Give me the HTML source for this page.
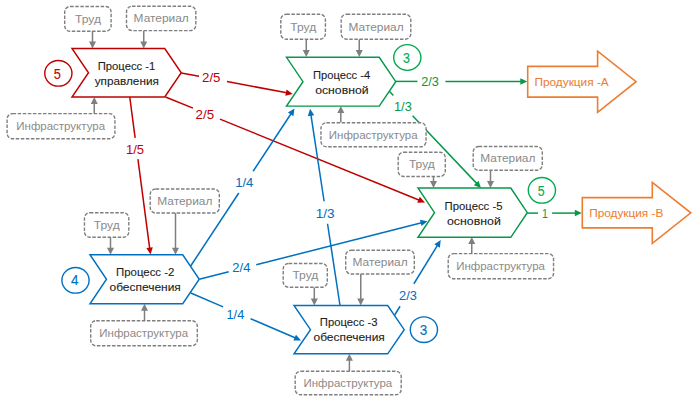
<!DOCTYPE html>
<html><head><meta charset="utf-8"><style>
html,body{margin:0;padding:0;background:#fff;}
body{width:700px;height:402px;overflow:hidden;}
svg{display:block;font-family:"Liberation Sans", sans-serif;}
</style></head><body>
<svg width="700" height="402" viewBox="0 0 700 402">
<rect width="700" height="402" fill="#fff"/>
<line x1="181.25" y1="73" x2="199.0" y2="76.33" stroke="#C00000" stroke-width="1.5"/>
<line x1="227.0" y1="81.57" x2="286.9" y2="92.8" stroke="#C00000" stroke-width="1.5"/>
<polygon points="292.80,93.90 285.32,95.81 286.52,89.42" fill="#C00000"/>
<line x1="165.5" y1="97" x2="193.0" y2="108.18" stroke="#C00000" stroke-width="1.5"/>
<line x1="220.0" y1="119.16" x2="419.44" y2="200.24" stroke="#C00000" stroke-width="1.5"/>
<polygon points="425.00,202.50 417.29,202.87 419.74,196.85" fill="#C00000"/>
<line x1="129.75" y1="97" x2="135.13" y2="137.8" stroke="#C00000" stroke-width="1.5"/>
<line x1="137.93" y1="159.1" x2="149.72" y2="248.55" stroke="#C00000" stroke-width="1.5"/>
<polygon points="150.50,254.50 146.36,247.98 152.81,247.14" fill="#C00000"/>
<line x1="395.75" y1="81.4" x2="417.5" y2="81.4" stroke="#06984A" stroke-width="1.5"/>
<line x1="445.4" y1="81.4" x2="521.3" y2="81.4" stroke="#06984A" stroke-width="1.5"/>
<polygon points="527.30,81.40 520.30,84.65 520.30,78.15" fill="#06984A"/>
<line x1="389.3" y1="91.2" x2="393.4" y2="95.53" stroke="#06984A" stroke-width="1.5"/>
<line x1="412.6" y1="115.8" x2="476.87" y2="183.64" stroke="#06984A" stroke-width="1.5"/>
<polygon points="481.00,188.00 473.83,185.15 478.55,180.68" fill="#06984A"/>
<line x1="527.2" y1="213.1" x2="538.0" y2="213.1" stroke="#06984A" stroke-width="1.5"/>
<line x1="552.1" y1="213.1" x2="575.8" y2="213.1" stroke="#06984A" stroke-width="1.5"/>
<polygon points="581.80,213.10 574.80,216.35 574.80,209.85" fill="#06984A"/>
<line x1="190.5" y1="266.25" x2="238.79" y2="193.0" stroke="#0070C0" stroke-width="1.5"/>
<line x1="253.13" y1="171.25" x2="291.2" y2="113.51" stroke="#0070C0" stroke-width="1.5"/>
<polygon points="294.50,108.50 293.36,116.13 287.93,112.56" fill="#0070C0"/>
<line x1="199.25" y1="279.25" x2="228.75" y2="271.75" stroke="#0070C0" stroke-width="1.5"/>
<line x1="256.25" y1="264.77" x2="421.68" y2="222.73" stroke="#0070C0" stroke-width="1.5"/>
<polygon points="427.50,221.25 421.52,226.12 419.92,219.82" fill="#0070C0"/>
<line x1="190.8" y1="293" x2="223.1" y2="306.88" stroke="#0070C0" stroke-width="1.5"/>
<line x1="250.6" y1="318.7" x2="295.59" y2="338.03" stroke="#0070C0" stroke-width="1.5"/>
<polygon points="301.10,340.40 293.39,340.62 295.95,334.65" fill="#0070C0"/>
<line x1="340" y1="305.5" x2="327.53" y2="223.75" stroke="#0070C0" stroke-width="1.5"/>
<line x1="324.1" y1="201.25" x2="310.9" y2="114.68" stroke="#0070C0" stroke-width="1.5"/>
<polygon points="310.00,108.75 314.27,115.18 307.84,116.16" fill="#0070C0"/>
<line x1="394.7" y1="315" x2="400.07" y2="306.25" stroke="#0070C0" stroke-width="1.5"/>
<line x1="413.89" y1="283.75" x2="437.61" y2="245.11" stroke="#0070C0" stroke-width="1.5"/>
<polygon points="440.75,240.00 439.86,247.67 434.32,244.26" fill="#0070C0"/>
<line x1="92.5" y1="31" x2="92.5" y2="42.5" stroke="#7F7F7F" stroke-width="1.5"/>
<polygon points="92.5,48.5 89.0,41.5 96.0,41.5" fill="#7F7F7F"/>
<line x1="143.75" y1="31" x2="143.75" y2="42.5" stroke="#7F7F7F" stroke-width="1.5"/>
<polygon points="143.75,48.5 140.25,41.5 147.25,41.5" fill="#7F7F7F"/>
<line x1="94.25" y1="113.5" x2="94.25" y2="103" stroke="#7F7F7F" stroke-width="1.5"/>
<polygon points="94.25,97 90.75,104 97.75,104" fill="#7F7F7F"/>
<line x1="306.25" y1="39.2" x2="306.25" y2="51" stroke="#7F7F7F" stroke-width="1.5"/>
<polygon points="306.25,57 302.75,50 309.75,50" fill="#7F7F7F"/>
<line x1="359.25" y1="39.2" x2="359.25" y2="51" stroke="#7F7F7F" stroke-width="1.5"/>
<polygon points="359.25,57 355.75,50 362.75,50" fill="#7F7F7F"/>
<line x1="340.8" y1="122.5" x2="340.8" y2="112.1" stroke="#7F7F7F" stroke-width="1.5"/>
<polygon points="340.8,106.1 337.3,113.1 344.3,113.1" fill="#7F7F7F"/>
<line x1="433.5" y1="176.5" x2="433.5" y2="182" stroke="#7F7F7F" stroke-width="1.5"/>
<polygon points="433.5,188 430.0,181 437.0,181" fill="#7F7F7F"/>
<line x1="490.5" y1="170.3" x2="490.5" y2="182" stroke="#7F7F7F" stroke-width="1.5"/>
<polygon points="490.5,188 487.0,181 494.0,181" fill="#7F7F7F"/>
<line x1="471.75" y1="253.75" x2="471.75" y2="243" stroke="#7F7F7F" stroke-width="1.5"/>
<polygon points="471.75,237 468.25,244 475.25,244" fill="#7F7F7F"/>
<line x1="110.5" y1="237.3" x2="110.5" y2="248.75" stroke="#7F7F7F" stroke-width="1.5"/>
<polygon points="110.5,254.75 107.0,247.75 114.0,247.75" fill="#7F7F7F"/>
<line x1="175.5" y1="213" x2="175.5" y2="248.75" stroke="#7F7F7F" stroke-width="1.5"/>
<polygon points="175.5,254.75 172.0,247.75 179.0,247.75" fill="#7F7F7F"/>
<line x1="144.5" y1="320.5" x2="144.5" y2="309.75" stroke="#7F7F7F" stroke-width="1.5"/>
<polygon points="144.5,303.75 141.0,310.75 148.0,310.75" fill="#7F7F7F"/>
<line x1="314.3" y1="287.3" x2="314.3" y2="299.5" stroke="#7F7F7F" stroke-width="1.5"/>
<polygon points="314.3,305.5 310.8,298.5 317.8,298.5" fill="#7F7F7F"/>
<line x1="360.75" y1="274" x2="360.75" y2="299.5" stroke="#7F7F7F" stroke-width="1.5"/>
<polygon points="360.75,305.5 357.25,298.5 364.25,298.5" fill="#7F7F7F"/>
<line x1="349.4" y1="371" x2="349.4" y2="359.7" stroke="#7F7F7F" stroke-width="1.5"/>
<polygon points="349.4,353.7 345.9,360.7 352.9,360.7" fill="#7F7F7F"/>
<polygon points="72,48.5 164.75,48.5 181.25,72.75 164.75,97.0 72,97.0 88.5,72.75" fill="#fff" stroke="#C00000" stroke-width="1.45" stroke-linejoin="miter"/>
<polygon points="286.5,57.3 379.25,57.3 395.75,81.69999999999999 379.25,106.1 286.5,106.1 303.0,81.69999999999999" fill="#fff" stroke="#06984A" stroke-width="1.45" stroke-linejoin="miter"/>
<polygon points="418,188 510.79999999999995,188 527.3,212.65 510.79999999999995,237.3 418,237.3 434.5,212.65" fill="#fff" stroke="#06984A" stroke-width="1.45" stroke-linejoin="miter"/>
<polygon points="90,254.75 182.75,254.75 199.25,279.25 182.75,303.75 90,303.75 106.5,279.25" fill="#fff" stroke="#0070C0" stroke-width="1.45" stroke-linejoin="miter"/>
<polygon points="294,305.5 387.7,305.5 404.2,329.65 387.7,353.8 294,353.8 310.5,329.65" fill="#fff" stroke="#0070C0" stroke-width="1.45" stroke-linejoin="miter"/>
<text x="97.69" y="70.10" font-size="11.6" fill="#1E1E1E" stroke="#1E1E1E" stroke-width="0.12" textLength="57.66" lengthAdjust="spacingAndGlyphs">Процесс -1</text>
<text x="94.76" y="84.50" font-size="11.6" fill="#1E1E1E" stroke="#1E1E1E" stroke-width="0.12" textLength="64.05" lengthAdjust="spacingAndGlyphs">управления</text>
<text x="313.00" y="78.60" font-size="11.6" fill="#1E1E1E" stroke="#1E1E1E" stroke-width="0.12" textLength="57.13" lengthAdjust="spacingAndGlyphs">Процесс -4</text>
<text x="315.19" y="93.60" font-size="11.6" fill="#1E1E1E" stroke="#1E1E1E" stroke-width="0.12" textLength="53.37" lengthAdjust="spacingAndGlyphs">основной</text>
<text x="444.58" y="209.50" font-size="11.6" fill="#1E1E1E" stroke="#1E1E1E" stroke-width="0.12" textLength="57.89" lengthAdjust="spacingAndGlyphs">Процесс -5</text>
<text x="446.98" y="224.50" font-size="11.6" fill="#1E1E1E" stroke="#1E1E1E" stroke-width="0.12" textLength="53.88" lengthAdjust="spacingAndGlyphs">основной</text>
<text x="116.08" y="276.25" font-size="11.6" fill="#1E1E1E" stroke="#1E1E1E" stroke-width="0.12" textLength="58.24" lengthAdjust="spacingAndGlyphs">Процесс -2</text>
<text x="109.50" y="290.75" font-size="11.6" fill="#1E1E1E" stroke="#1E1E1E" stroke-width="0.12" textLength="71.34" lengthAdjust="spacingAndGlyphs">обеспечения</text>
<text x="319.84" y="326.25" font-size="11.6" fill="#1E1E1E" stroke="#1E1E1E" stroke-width="0.12" textLength="57.66" lengthAdjust="spacingAndGlyphs">Процесс -3</text>
<text x="313.50" y="341.00" font-size="11.6" fill="#1E1E1E" stroke="#1E1E1E" stroke-width="0.12" textLength="71.34" lengthAdjust="spacingAndGlyphs">обеспечения</text>
<rect x="64.70" y="6.50" width="46.40" height="24.80" rx="5.5" fill="#fff" stroke="#7F7F7F" stroke-width="1.4" stroke-dasharray="3.5 1.57"/>
<text x="75.09" y="22.95" font-size="11.3" fill="#8A8A8A" stroke="#8A8A8A" stroke-width="0" textLength="25.88" lengthAdjust="spacingAndGlyphs">Труд</text>
<rect x="126.50" y="6.20" width="69.30" height="24.40" rx="5.5" fill="#fff" stroke="#7F7F7F" stroke-width="1.4" stroke-dasharray="3.5 1.57"/>
<text x="133.62" y="22.45" font-size="11.3" fill="#8A8A8A" stroke="#8A8A8A" stroke-width="0" textLength="55.21" lengthAdjust="spacingAndGlyphs">Материал</text>
<rect x="7.10" y="113.60" width="107.80" height="25.20" rx="5.5" fill="#fff" stroke="#7F7F7F" stroke-width="1.4" stroke-dasharray="3.5 1.57"/>
<text x="16.31" y="130.25" font-size="11.3" fill="#8A8A8A" stroke="#8A8A8A" stroke-width="0" textLength="88.74" lengthAdjust="spacingAndGlyphs">Инфраструктура</text>
<rect x="280.80" y="14.20" width="44.60" height="25.00" rx="5.5" fill="#fff" stroke="#7F7F7F" stroke-width="1.4" stroke-dasharray="3.5 1.57"/>
<text x="290.29" y="30.75" font-size="11.3" fill="#8A8A8A" stroke="#8A8A8A" stroke-width="0" textLength="25.88" lengthAdjust="spacingAndGlyphs">Труд</text>
<rect x="341.20" y="14.20" width="69.60" height="25.00" rx="5.5" fill="#fff" stroke="#7F7F7F" stroke-width="1.4" stroke-dasharray="3.5 1.57"/>
<text x="348.47" y="30.75" font-size="11.3" fill="#8A8A8A" stroke="#8A8A8A" stroke-width="0" textLength="55.21" lengthAdjust="spacingAndGlyphs">Материал</text>
<rect x="320.95" y="122.70" width="105.10" height="24.10" rx="5.5" fill="#fff" stroke="#7F7F7F" stroke-width="1.4" stroke-dasharray="3.5 1.57"/>
<text x="328.81" y="138.80" font-size="11.3" fill="#8A8A8A" stroke="#8A8A8A" stroke-width="0" textLength="88.74" lengthAdjust="spacingAndGlyphs">Инфраструктура</text>
<rect x="398.20" y="152.20" width="47.10" height="24.35" rx="5.5" fill="#fff" stroke="#7F7F7F" stroke-width="1.4" stroke-dasharray="3.5 1.57"/>
<text x="408.94" y="168.43" font-size="11.3" fill="#8A8A8A" stroke="#8A8A8A" stroke-width="0" textLength="25.88" lengthAdjust="spacingAndGlyphs">Труд</text>
<rect x="473.20" y="146.45" width="69.10" height="23.85" rx="5.5" fill="#fff" stroke="#7F7F7F" stroke-width="1.4" stroke-dasharray="3.5 1.57"/>
<text x="480.22" y="162.43" font-size="11.3" fill="#8A8A8A" stroke="#8A8A8A" stroke-width="0" textLength="55.21" lengthAdjust="spacingAndGlyphs">Материал</text>
<rect x="448.20" y="253.60" width="105.35" height="25.20" rx="5.5" fill="#fff" stroke="#7F7F7F" stroke-width="1.4" stroke-dasharray="3.5 1.57"/>
<text x="456.18" y="270.25" font-size="11.3" fill="#8A8A8A" stroke="#8A8A8A" stroke-width="0" textLength="88.74" lengthAdjust="spacingAndGlyphs">Инфраструктура</text>
<rect x="84.45" y="212.70" width="44.35" height="24.60" rx="5.5" fill="#fff" stroke="#7F7F7F" stroke-width="1.4" stroke-dasharray="3.5 1.57"/>
<text x="93.81" y="229.05" font-size="11.3" fill="#8A8A8A" stroke="#8A8A8A" stroke-width="0" textLength="25.88" lengthAdjust="spacingAndGlyphs">Труд</text>
<rect x="150.20" y="188.95" width="69.10" height="24.10" rx="5.5" fill="#fff" stroke="#7F7F7F" stroke-width="1.4" stroke-dasharray="3.5 1.57"/>
<text x="157.22" y="205.05" font-size="11.3" fill="#8A8A8A" stroke="#8A8A8A" stroke-width="0" textLength="55.21" lengthAdjust="spacingAndGlyphs">Материал</text>
<rect x="90.70" y="320.70" width="106.60" height="25.10" rx="5.5" fill="#fff" stroke="#7F7F7F" stroke-width="1.4" stroke-dasharray="3.5 1.57"/>
<text x="99.31" y="337.30" font-size="11.3" fill="#8A8A8A" stroke="#8A8A8A" stroke-width="0" textLength="88.74" lengthAdjust="spacingAndGlyphs">Инфраструктура</text>
<rect x="283.20" y="263.45" width="44.10" height="23.85" rx="5.5" fill="#fff" stroke="#7F7F7F" stroke-width="1.4" stroke-dasharray="3.5 1.57"/>
<text x="292.44" y="279.43" font-size="11.3" fill="#8A8A8A" stroke="#8A8A8A" stroke-width="0" textLength="25.88" lengthAdjust="spacingAndGlyphs">Труд</text>
<rect x="345.70" y="250.20" width="68.60" height="23.85" rx="5.5" fill="#fff" stroke="#7F7F7F" stroke-width="1.4" stroke-dasharray="3.5 1.57"/>
<text x="352.47" y="266.18" font-size="11.3" fill="#8A8A8A" stroke="#8A8A8A" stroke-width="0" textLength="55.21" lengthAdjust="spacingAndGlyphs">Материал</text>
<rect x="295.20" y="371.20" width="106.00" height="23.60" rx="5.5" fill="#fff" stroke="#7F7F7F" stroke-width="1.4" stroke-dasharray="3.5 1.57"/>
<text x="303.51" y="387.05" font-size="11.3" fill="#8A8A8A" stroke="#8A8A8A" stroke-width="0" textLength="88.74" lengthAdjust="spacingAndGlyphs">Инфраструктура</text>
<ellipse cx="58.35" cy="73.3" rx="13.6" ry="12.85" fill="#fff" stroke="#C00000" stroke-width="1.4"/>
<text x="53.79" y="78.69" font-size="14.5" fill="#C00000" stroke="#C00000" stroke-width="0.12" textLength="7.16" lengthAdjust="spacingAndGlyphs">5</text>
<ellipse cx="407.3" cy="57.5" rx="13.6" ry="12.85" fill="#fff" stroke="#00AC4E" stroke-width="1.4"/>
<text x="402.93" y="62.74" font-size="14.5" fill="#00AC4E" stroke="#00AC4E" stroke-width="0.12" textLength="6.92" lengthAdjust="spacingAndGlyphs">3</text>
<ellipse cx="541.9" cy="190.3" rx="13.6" ry="12.85" fill="#fff" stroke="#00AC4E" stroke-width="1.4"/>
<text x="537.70" y="195.79" font-size="14.5" fill="#00AC4E" stroke="#00AC4E" stroke-width="0.12" textLength="6.92" lengthAdjust="spacingAndGlyphs">5</text>
<ellipse cx="75.5" cy="280.3" rx="13.6" ry="12.85" fill="#fff" stroke="#0070C0" stroke-width="1.4"/>
<text x="70.89" y="285.29" font-size="14.5" fill="#0070C0" stroke="#0070C0" stroke-width="0.12" textLength="7.50" lengthAdjust="spacingAndGlyphs">4</text>
<ellipse cx="423.9" cy="329.7" rx="13.6" ry="12.85" fill="#fff" stroke="#0070C0" stroke-width="1.4"/>
<text x="419.69" y="335.19" font-size="14.5" fill="#0070C0" stroke="#0070C0" stroke-width="0.12" textLength="7.51" lengthAdjust="spacingAndGlyphs">3</text>
<text x="202.04" y="81.70" font-size="12.9" fill="#C00000" stroke="#C00000" stroke-width="0.03" textLength="18.42" lengthAdjust="spacingAndGlyphs">2/5</text>
<text x="195.63" y="118.70" font-size="12.9" fill="#C00000" stroke="#C00000" stroke-width="0.03" textLength="18.53" lengthAdjust="spacingAndGlyphs">2/5</text>
<text x="125.91" y="154.00" font-size="12.9" fill="#C00000" stroke="#C00000" stroke-width="0.03" textLength="18.14" lengthAdjust="spacingAndGlyphs">1/5</text>
<text x="421.16" y="85.60" font-size="12.9" fill="#06984A" stroke="#06984A" stroke-width="0.03" textLength="17.70" lengthAdjust="spacingAndGlyphs">2/3</text>
<text x="394.03" y="111.10" font-size="12.9" fill="#06984A" stroke="#06984A" stroke-width="0.03" textLength="17.73" lengthAdjust="spacingAndGlyphs">1/3</text>
<text x="541.91" y="218.40" font-size="12.9" fill="#06984A" stroke="#06984A" stroke-width="0.03" textLength="5.81" lengthAdjust="spacingAndGlyphs">1</text>
<text x="235.21" y="187.00" font-size="12.9" fill="#0070C0" stroke="#0070C0" stroke-width="0.03" textLength="18.17" lengthAdjust="spacingAndGlyphs">1/4</text>
<text x="232.35" y="272.00" font-size="12.9" fill="#0070C0" stroke="#0070C0" stroke-width="0.03" textLength="18.03" lengthAdjust="spacingAndGlyphs">2/4</text>
<text x="226.53" y="319.30" font-size="12.9" fill="#0070C0" stroke="#0070C0" stroke-width="0.03" textLength="17.74" lengthAdjust="spacingAndGlyphs">1/4</text>
<text x="315.77" y="217.70" font-size="12.9" fill="#0070C0" stroke="#0070C0" stroke-width="0.03" textLength="18.83" lengthAdjust="spacingAndGlyphs">1/3</text>
<text x="399.06" y="299.80" font-size="12.9" fill="#0070C0" stroke="#0070C0" stroke-width="0.03" textLength="17.81" lengthAdjust="spacingAndGlyphs">2/3</text>
<polygon points="527.7,66.4 597.6,66.4 597.6,51.1 636.1,81.7 597.6,112.3 597.6,97.1 527.7,97.1" fill="#fff" stroke="#ED7D31" stroke-width="1.6"/>
<text x="534.44" y="86.00" font-size="11.6" fill="#ED7D31" stroke="#ED7D31" stroke-width="0.05" textLength="74.28" lengthAdjust="spacingAndGlyphs">Продукция -А</text>
<polygon points="582.3,197.6 652.3,197.6 652.3,182.3 690.8,212.85000000000002 652.3,243.4 652.3,227.9 582.3,227.9" fill="#fff" stroke="#ED7D31" stroke-width="1.6"/>
<text x="589.24" y="217.00" font-size="11.6" fill="#ED7D31" stroke="#ED7D31" stroke-width="0.05" textLength="74.08" lengthAdjust="spacingAndGlyphs">Продукция -В</text>
</svg>
</body></html>
